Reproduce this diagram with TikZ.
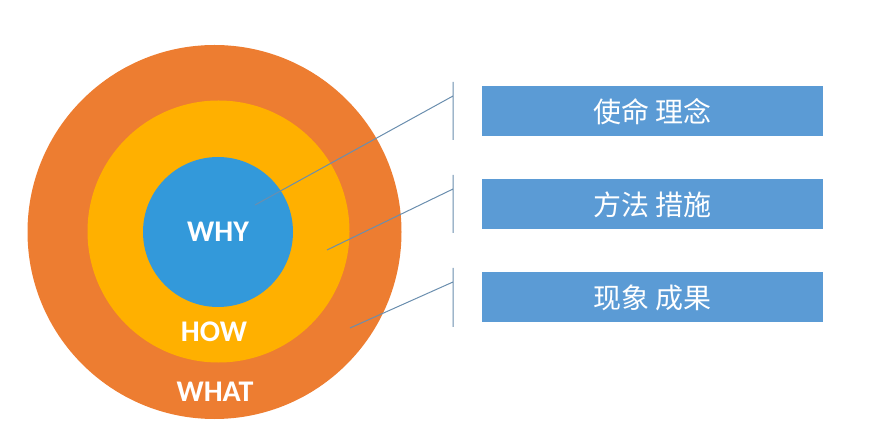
\documentclass[tikz,border=0pt]{standalone}
\usepackage{fontspec}
\setmainfont{Carlito}
\newfontfamily\cjk{Noto Sans CJK SC}
\usetikzlibrary{positioning}
\definecolor{whatorange}{HTML}{ED7D31}
\definecolor{howgold}{HTML}{FFB000}
\definecolor{whyblue}{HTML}{3399DA}
\definecolor{boxblue}{HTML}{5B9BD5}
\definecolor{linkblue}{HTML}{6A8EAE}
\tikzstyle{ring}=[circle,inner sep=0pt,text=white,font=\bfseries\fontsize{30}{30}\selectfont]
\tikzstyle{tag}=[text=white,font=\bfseries\fontsize{30}{30}\selectfont]
\tikzstyle{box}=[fill=boxblue,minimum width=341pt,minimum height=50pt,inner sep=0pt,
  text=white,font=\cjk\fontsize{28}{28}\selectfont]
\tikzstyle{link}=[linkblue,line width=1pt]

\begin{document}
\begin{tikzpicture}[x=1pt, y=-1pt, node distance=93pt, on grid]
  \useasboundingbox (0,0) rectangle (875,427);

  \node[ring, fill=whatorange, minimum size=374pt] (what) at (214.5,232) {};
  \node[ring, fill=howgold, minimum size=262pt] (how) at (218.5,231.5) {};
  \node[ring, fill=whyblue, minimum size=150pt] (why) at (218,232) {WHY};
  \node[tag] (howlbl) at (214,332) {HOW};
  \node[tag] (whatlbl) at (215,392) {WHAT};

  \node[box] (b1) at (652.5,111.5) {使命 理念};
  \node[box, below=of b1] (b2) {方法 措施};
  \node[box, below=of b2] (b3) {现象 成果};

  % leaders
  \coordinate (p1) at (255,205);   \coordinate (q1) at (453,96);
  \coordinate (p2) at (327,250);   \coordinate (q2) at (453,189);
  \coordinate (p3) at (350,328);   \coordinate (q3) at (453,282);
  \coordinate (t1) at (453,82);    \coordinate (u1) at (453,140);
  \coordinate (t2) at (453,175);   \coordinate (u2) at (453,233);
  \coordinate (t3) at (453,268);   \coordinate (u3) at (453,327);

  \draw[link] (p1) -- (q1) (t1) -- (u1);
  \draw[link] (p2) -- (q2) (t2) -- (u2);
  \draw[link] (p3) -- (q3) (t3) -- (u3);
\end{tikzpicture}
\end{document}
